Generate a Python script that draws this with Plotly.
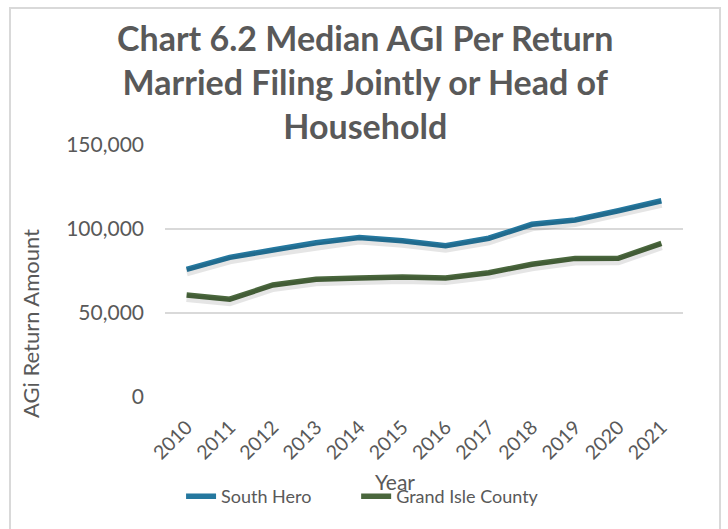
import plotly.graph_objects as go

years = ["2010", "2011", "2012", "2013", "2014", "2015",
         "2016", "2017", "2018", "2019", "2020", "2021"]
south_hero = [76000, 83100, 87500, 91800, 95000, 93000,
              90100, 94500, 102800, 105400, 110900, 116800]
grand_isle = [60700, 58200, 66700, 70100, 70800, 71400,
              70800, 74000, 79000, 82500, 82600, 91500]

BLUE = "#25789f"
GREEN = "#4a673d"
TEXT = "#595959"
FONT = "Lato"

fig = go.Figure()

# soft drop shadow beneath each line (drawn on a slightly shifted overlay axis)
for vals in (south_hero, grand_isle):
    fig.add_trace(go.Scatter(
        x=years, y=vals, mode="lines", yaxis="y2",
        line=dict(color="rgba(0,0,0,0.10)", width=8),
        hoverinfo="skip", showlegend=False,
    ))

fig.add_trace(go.Scatter(
    x=years, y=south_hero, mode="lines", name="South Hero",
    line=dict(color=BLUE, width=5.5), legend="legend",
))
fig.add_trace(go.Scatter(
    x=years, y=grand_isle, mode="lines", name="Grand Isle County",
    line=dict(color=GREEN, width=5.5), legend="legend2",
))

legend_style = dict(
    orientation="h", y=-0.395, xanchor="left", yanchor="middle",
    font=dict(size=18, color=TEXT), bgcolor="rgba(0,0,0,0)",
)

fig.update_layout(
    width=728, height=529,
    margin=dict(l=165, r=45, t=145, b=132),
    paper_bgcolor="white", plot_bgcolor="white",
    font=dict(family=FONT, color=TEXT),
    showlegend=True,
    legend=dict(x=0.031, **legend_style),
    legend2=dict(x=0.369, **legend_style),
    xaxis=dict(
        type="category", range=[-0.5, 11.5], tickangle=-45, showgrid=False,
        zeroline=False, showline=False, ticks="", automargin=False,
        ticklabelstandoff=14, tickfont=dict(size=19.5, color=TEXT),
    ),
    yaxis=dict(
        range=[0, 150000], tickvals=[0, 50000, 100000, 150000],
        tickformat=",", showgrid=True, gridcolor="#d9d9d9", gridwidth=1.5,
        zeroline=False, showline=False, ticks="", ticklabelstandoff=20,
        automargin=False, tickfont=dict(size=21, color=TEXT),
    ),
    yaxis2=dict(
        overlaying="y", range=[1800, 151800], visible=False,
    ),
    shapes=[dict(
        type="rect", xref="paper", yref="paper",
        x0=-155 / 518, x1=555 / 518, y0=-140 / 252, y1=389 / 252,
        line=dict(color="#d9d9d9", width=2), fillcolor="rgba(0,0,0,0)",
        layer="below",
    )],
    annotations=[
        dict(
            text="<b>Chart 6.2 Median AGI Per Return<br>Married Filing Jointly or Head of<br>Household</b>",
            xref="paper", yref="paper", x=200 / 518, y=(397 - 81) / 252,
            xanchor="center", yanchor="middle", showarrow=False,
            font=dict(size=34, color=TEXT, family=FONT),
        ),
        dict(
            text="AGi Return Amount", textangle=-90,
            xref="paper", yref="paper", x=-135 / 518, y=(397 - 324) / 252,
            xanchor="center", yanchor="middle", showarrow=False,
            font=dict(size=22, color=TEXT),
        ),
        dict(
            text="Year", xref="paper", yref="paper",
            x=230 / 518, y=(397 - 481) / 252,
            xanchor="center", yanchor="middle", showarrow=False,
            font=dict(size=21, color=TEXT),
        ),
    ],
)

fig.write_html("out.html")
